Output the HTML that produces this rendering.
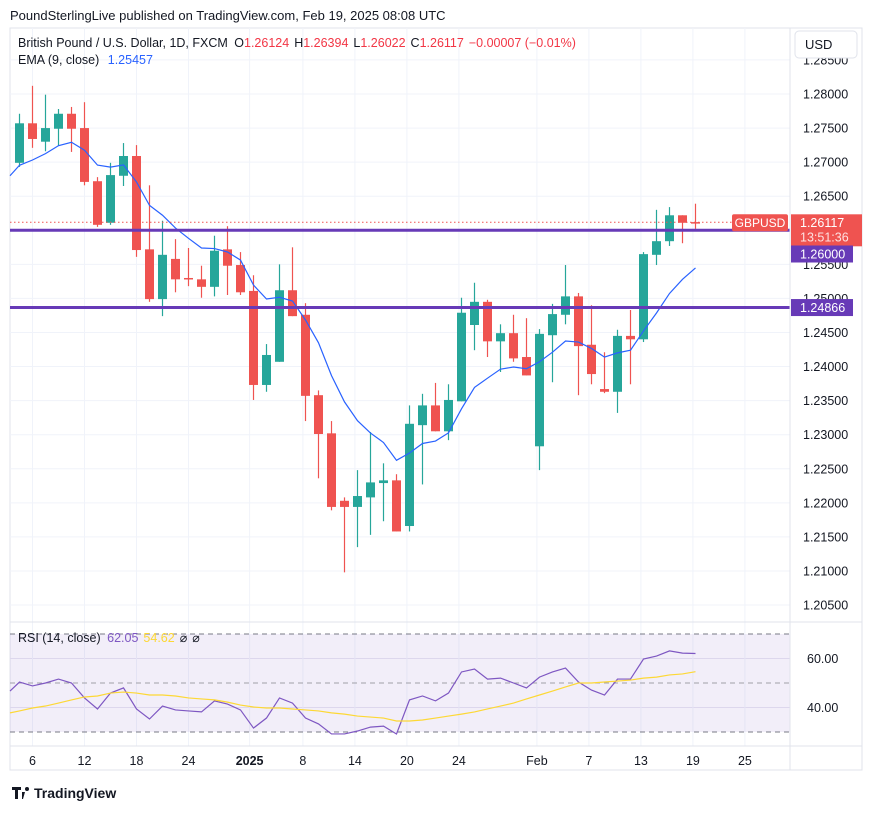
<!DOCTYPE html>
<html><head><meta charset="utf-8">
<style>
body{margin:0;background:#fff;font-family:"Liberation Sans",sans-serif;}
svg text{font-family:"Liberation Sans",sans-serif;}
</style></head>
<body>
<svg id="chart" width="872" height="809" xmlns="http://www.w3.org/2000/svg">
<rect width="872" height="809" fill="#fff"/>
<text x="10" y="20" font-size="13" fill="#131722">PoundSterlingLive published on TradingView.com, Feb 19, 2025 08:08 UTC</text>
<rect x="10" y="28" width="852" height="742" fill="none" stroke="#e0e3eb"/>
<g id="grid"></g>
<rect x="10" y="634" width="780" height="98" fill="#7e57c2" fill-opacity="0.1"/>
<g id="rsi-guides"></g>
<g id="candles"></g>
<g id="lines"></g>
<line x1="790" y1="28" x2="790" y2="770" stroke="#e0e3eb"/>
<line x1="10" y1="622" x2="862" y2="622" stroke="#e0e3eb"/>
<line x1="10" y1="746" x2="862" y2="746" stroke="#e0e3eb"/>
<g id="axes"></g>
<text x="18" y="47" font-size="12.5" fill="#131722">British Pound / U.S. Dollar, 1D, FXCM <tspan dx="3">O</tspan><tspan fill="#f23645">1.26124</tspan><tspan dx="5">H</tspan><tspan fill="#f23645">1.26394</tspan><tspan dx="5">L</tspan><tspan fill="#f23645">1.26022</tspan><tspan dx="5">C</tspan><tspan fill="#f23645">1.26117</tspan><tspan dx="5" fill="#f23645">−0.00007 (−0.01%)</tspan></text>
<text x="18" y="64" font-size="12.5" fill="#131722">EMA (9, close) <tspan dx="5" fill="#2962ff">1.25457</tspan></text>
<text x="18" y="642" font-size="12.5" fill="#131722">RSI (14, close) <tspan dx="3" fill="#7e57c2">62.05</tspan><tspan dx="5" fill="#fdd835">54.62</tspan><tspan dx="5">⌀</tspan><tspan dx="5">⌀</tspan></text>
<rect x="795" y="31" width="62" height="27" rx="4" fill="#fff" stroke="#e0e3eb"/>
<text x="805" y="49" font-size="13" fill="#131722">USD</text>
<g>
<path d="M12 787h9v3h-3v9h-3v-9h-3z M22 792h3l-2 7h-1z" fill="#131722"/>
<circle cx="27" cy="789" r="2" fill="#131722"/>
<text x="34" y="798" font-size="14" fill="#131722" font-weight="bold">TradingView</text>
</g>
</svg>
<script>
const opens=[1.2699,1.2757,1.2730,1.2749,1.2771,1.2750,1.2672,1.2611,1.2680,1.2709,1.2572,1.2499,1.2558,1.2530,1.2528,1.2517,1.2572,1.2549,1.2511,1.2373,1.2407,1.2512,1.2476,1.2358,1.2302,1.2203,1.2194,1.2208,1.2229,1.2233,1.2166,1.2314,1.2343,1.2305,1.2349,1.2461,1.2495,1.2437,1.2449,1.2414,1.2283,1.2446,1.2476,1.2503,1.2432,1.2367,1.2363,1.2445,1.2440,1.2564,1.2584,1.2622,1.2612];
const highs=[1.2771,1.2812,1.2799,1.2778,1.2781,1.2788,1.2678,1.2699,1.2728,1.2725,1.2666,1.2614,1.2587,1.2574,1.2548,1.2592,1.2606,1.2568,1.2534,1.2433,1.2550,1.2575,1.2493,1.2365,1.2320,1.2208,1.2248,1.2304,1.2258,1.2242,1.2343,1.2360,1.2376,1.2374,1.2501,1.2523,1.2498,1.2462,1.2476,1.2471,1.2455,1.2492,1.2549,1.2508,1.2490,1.2421,1.2454,1.2483,1.2568,1.2630,1.2634,1.2622,1.2639];
const lows=[1.2693,1.2721,1.2716,1.2724,1.2715,1.2666,1.2605,1.2608,1.2665,1.2561,1.2495,1.2474,1.2509,1.2518,1.2501,1.2503,1.2505,1.2505,1.2351,1.2363,1.2407,1.2474,1.2320,1.2236,1.2189,1.2098,1.2135,1.2153,1.2173,1.2158,1.2158,1.2227,1.2305,1.2292,1.2349,1.2424,1.2414,1.2392,1.2407,1.2387,1.2248,1.2377,1.2462,1.2358,1.2374,1.2361,1.2332,1.2374,1.2436,1.2549,1.2577,1.2581,1.2602];
const closes=[1.2757,1.2734,1.2750,1.2771,1.2749,1.2671,1.2608,1.2681,1.2709,1.2571,1.2499,1.2564,1.2528,1.2528,1.2517,1.2570,1.2548,1.2509,1.2373,1.2417,1.2512,1.2474,1.2357,1.2301,1.2194,1.2194,1.2210,1.2230,1.2233,1.2158,1.2316,1.2343,1.2305,1.2351,1.2479,1.2495,1.2437,1.2449,1.2412,1.2387,1.2448,1.2477,1.2503,1.2430,1.2389,1.2363,1.2445,1.2440,1.2565,1.2584,1.2622,1.2611,1.26117];
const emaSeed=1.2680;
const rsiPrev=46.7;
const rsiMaPrev=37.8;
const rsiValues=[50.4,48.8,50,51.6,50,43.9,39.4,45.9,48,39.4,35.3,40.6,39,38.6,38.2,42.7,41.4,39,31.6,35.7,43.9,41.8,35.7,33.3,29.2,29.2,30.4,32,32.4,29.2,43.1,44.7,42.7,45.9,54.5,55.7,51.6,52,50,48,52.4,54.5,56.1,50.4,47.1,45.1,51.6,51.6,59.8,61,63.1,62.2,62.05];
const rsiMaValues=[38.6,39.8,40.6,41.8,43.1,44.3,44.7,45.9,46.3,45.9,45.1,45.1,44.7,43.9,43.5,43.1,42.2,41,40.2,39.8,39.8,39.4,39,38.6,37.8,37.3,36.5,36.1,35.7,34.5,34.5,34.9,35.7,36.5,37.3,38.2,39.4,40.6,41.8,43.5,45.1,46.7,48.4,50,50,50.4,50.8,51.2,52,52.4,53.3,53.7,54.62];
const priceTicks=[1.285,1.28,1.275,1.27,1.265,1.26,1.255,1.25,1.245,1.24,1.235,1.23,1.225,1.22,1.215,1.21,1.205];
const dateLabels=["6","12","18","24","2025","8","14","20","24","Feb","7","13","19","25"];
const dateIdx=[1,5,9,13,17.7,21.8,25.8,29.8,33.8,39.8,43.8,47.8,51.8,55.8];
const hLevels=[1.26,1.24866];
const lastPrice=1.26117;

const NS="http://www.w3.org/2000/svg";
function X(i){return 19.5+13*i;}
function Y(p){return 94+(1.28-p)*6814;}
function RY(v){return 683-(v-50)*2.45;}
function mk(tag,attrs,parent){const e=document.createElementNS(NS,tag);for(const k in attrs)e.setAttribute(k,attrs[k]);document.getElementById(parent).appendChild(e);return e;}

priceTicks.forEach(p=>{const l=mk('line',{x1:10,x2:790,y1:Y(p),y2:Y(p),stroke:'#f0f3fa'},'grid');


const t=mk('text',{x:803,y:Y(p)+4.5,'font-size':12.5,fill:'#131722'},'axes');t.textContent=p.toFixed(5);

});
[60,40].forEach(v=>{const l=mk('line',{x1:10,x2:790,y1:RY(v),y2:RY(v),stroke:'#e8e6f2'},'grid');
const t=mk('text',{x:807,y:RY(v)+4.5,'font-size':12.5,fill:'#131722'},'axes');t.textContent=v.toFixed(2);

});
dateIdx.forEach((d,k)=>{const l=mk('line',{x1:X(d),x2:X(d),y1:28,y2:746,stroke:'#f0f3fa'},'grid');


const t=mk('text',{x:X(d),y:765,'font-size':12.5,fill:'#131722','text-anchor':'middle','font-weight':dateLabels[k]==='2025'?'bold':'normal'},'axes');t.textContent=dateLabels[k];

});
[70,50,30].forEach(v=>{const l=mk('line',{x1:10,x2:790,y1:RY(v),y2:RY(v),stroke:v===50?'#a0a0a8':'#787b86','stroke-dasharray':'5,4'},'rsi-guides');

});

closes.forEach((c,i)=>{const o=opens[i],up=c>=o,col=up?'#26a69a':'#ef5350';
const g=mk('g',{},'candles');


const w=document.createElementNS(NS,'line');w.setAttribute('x1',X(i));w.setAttribute('x2',X(i));w.setAttribute('y1',Y(highs[i]));w.setAttribute('y2',Y(lows[i]));w.setAttribute('stroke',col);w.setAttribute('stroke-width',1.2);g.appendChild(w);
const top=Y(Math.max(o,c)),bh=Math.max(1.5,Math.abs(Y(o)-Y(c)));
const r=document.createElementNS(NS,'rect');r.setAttribute('x',X(i)-4.5);r.setAttribute('y',top);r.setAttribute('width',9);r.setAttribute('height',bh);r.setAttribute('fill',col);g.appendChild(r);});

let e=emaSeed;const emaPts=[[10,Y(emaSeed)]];const k=2/10;
closes.forEach((c,i)=>{e=e+k*(c-e);emaPts.push([X(i),Y(e)]);});
const ema=mk('polyline',{points:emaPts.map(p=>p.join(',')).join(' '),fill:'none',stroke:'#2962ff','stroke-width':1.2},'lines');



hLevels.forEach(p=>{const l=mk('line',{x1:10,x2:790,y1:Y(p),y2:Y(p),stroke:'#673ab7','stroke-width':3},'lines');

});
const pl=mk('line',{x1:10,x2:790,y1:Y(lastPrice),y2:Y(lastPrice),stroke:'#ef5350','stroke-dasharray':'1.5,2.5'},'lines');



const rsi=mk('polyline',{points:'10,'+RY(rsiPrev)+' '+rsiValues.map((v,i)=>X(i)+','+RY(v)).join(' '),fill:'none',stroke:'#7e57c2','stroke-width':1.2},'lines');


const rma=mk('polyline',{points:'10,'+RY(rsiMaPrev)+' '+rsiMaValues.map((v,i)=>X(i)+','+RY(v)).join(' '),fill:'none',stroke:'#fdd835','stroke-width':1.2},'lines');



const yl=Y(lastPrice);
const b1=mk('rect',{x:732,y:yl-8,width:56,height:17,rx:2,fill:'#ef5350'},'axes');


let t=mk('text',{x:760,y:yl+4.5,'font-size':12,fill:'#fff','text-anchor':'middle'},'axes');t.textContent='GBPUSD';
const b2=mk('rect',{x:791,y:yl-8,width:71,height:32,fill:'#ef5350'},'axes');


t=mk('text',{x:800,y:yl+4.5,'font-size':12.5,fill:'#fff'},'axes');t.textContent=lastPrice.toFixed(5);
t=mk('text',{x:800,y:yl+19,'font-size':12.5,fill:'#fde0e0'},'axes');t.textContent='13:51:36';
[[hLevels[0],254],[hLevels[1],Y(hLevels[1])]].forEach(([p,yy])=>{const b=mk('rect',{x:791,y:yy-8.5,width:62,height:17,fill:'#673ab7'},'axes');


const tt=mk('text',{x:800,y:yy+4.5,'font-size':12.5,fill:'#fff'},'axes');tt.textContent=p.toFixed(5);});
</script>
</body></html>
